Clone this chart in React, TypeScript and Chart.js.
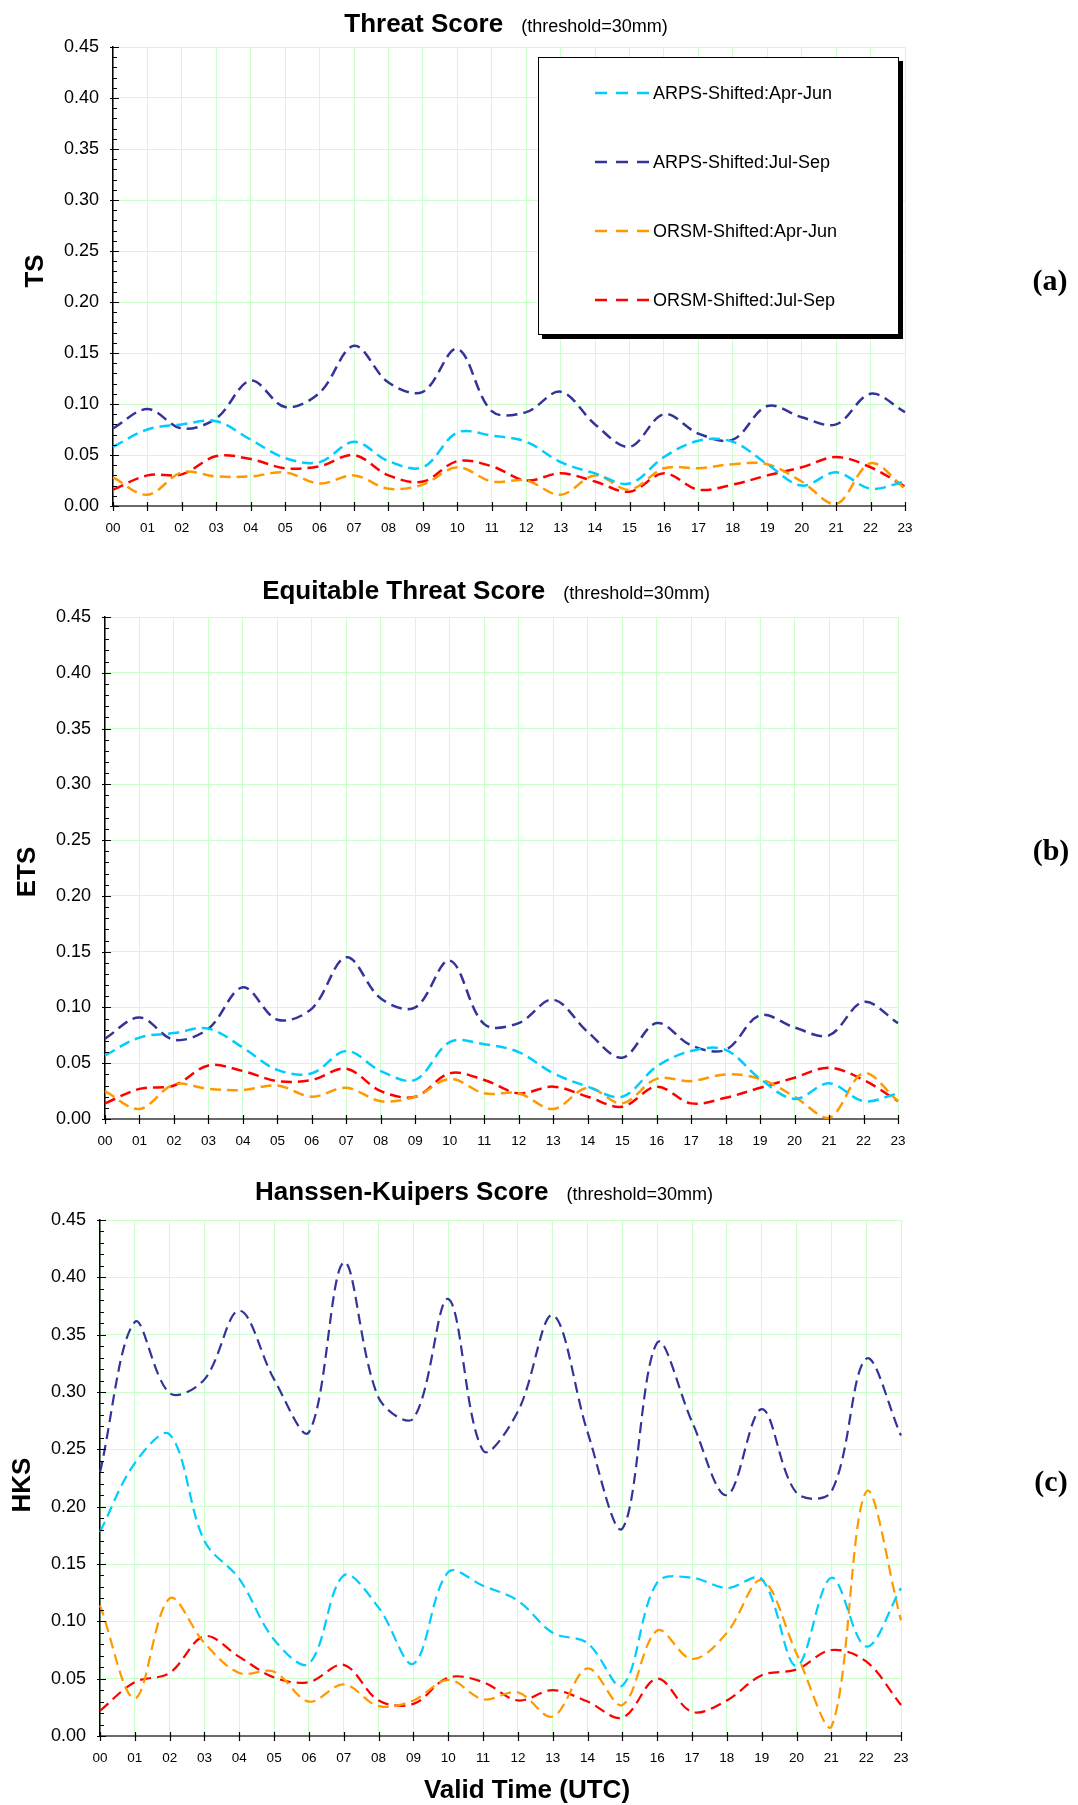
import React, { useEffect, useRef } from 'react';
import { Chart, registerables } from 'chart.js';

Chart.register(...registerables);

// ---------- data ----------
const HOURS = ['00', '01', '02', '03', '04', '05', '06', '07', '08', '09', '10', '11',
  '12', '13', '14', '15', '16', '17', '18', '19', '20', '21', '22', '23'];

const SERIES_LABELS = ['ARPS-Shifted:Apr-Jun', 'ARPS-Shifted:Jul-Sep', 'ORSM-Shifted:Apr-Jun', 'ORSM-Shifted:Jul-Sep'];
const SERIES_COLORS = ['#00ccff', '#333399', '#ff9900', '#ff0000'];

const TS_ARPS_AJ = [0.058, 0.075, 0.080, 0.083, 0.065, 0.047, 0.043, 0.063, 0.044, 0.038, 0.072, 0.069, 0.063, 0.043, 0.032, 0.022, 0.048, 0.064, 0.063, 0.041, 0.020, 0.033, 0.017, 0.024];
const TS_ARPS_JS = [0.076, 0.095, 0.076, 0.086, 0.123, 0.097, 0.111, 0.157, 0.121, 0.112, 0.154, 0.093, 0.092, 0.112, 0.080, 0.058, 0.090, 0.071, 0.065, 0.098, 0.087, 0.080, 0.110, 0.092];
const TS_ORSM_AJ = [0.028, 0.011, 0.033, 0.029, 0.029, 0.033, 0.022, 0.030, 0.017, 0.021, 0.038, 0.024, 0.025, 0.011, 0.030, 0.016, 0.037, 0.037, 0.041, 0.041, 0.024, 0.002, 0.042, 0.017];
const TS_ORSM_JS = [0.016, 0.030, 0.031, 0.049, 0.046, 0.037, 0.039, 0.050, 0.030, 0.024, 0.044, 0.039, 0.025, 0.032, 0.024, 0.014, 0.032, 0.016, 0.021, 0.030, 0.038, 0.048, 0.038, 0.019];

const ETS_ARPS_AJ = [0.057, 0.073, 0.077, 0.081, 0.064, 0.044, 0.041, 0.061, 0.043, 0.035, 0.069, 0.067, 0.060, 0.041, 0.029, 0.020, 0.047, 0.061, 0.062, 0.036, 0.018, 0.032, 0.016, 0.023];
const ETS_ARPS_JS = [0.072, 0.091, 0.071, 0.081, 0.118, 0.089, 0.099, 0.145, 0.108, 0.100, 0.142, 0.085, 0.086, 0.107, 0.078, 0.055, 0.086, 0.066, 0.062, 0.093, 0.082, 0.075, 0.105, 0.086];
const ETS_ORSM_AJ = [0.025, 0.009, 0.031, 0.027, 0.026, 0.030, 0.020, 0.028, 0.016, 0.020, 0.036, 0.023, 0.023, 0.009, 0.028, 0.014, 0.036, 0.034, 0.040, 0.036, 0.020, 0.001, 0.041, 0.016];
const ETS_ORSM_JS = [0.014, 0.027, 0.030, 0.048, 0.043, 0.034, 0.035, 0.045, 0.025, 0.020, 0.041, 0.035, 0.023, 0.029, 0.020, 0.011, 0.029, 0.014, 0.019, 0.028, 0.037, 0.046, 0.035, 0.016];

const HKS_ARPS_AJ = [0.178, 0.238, 0.263, 0.170, 0.137, 0.084, 0.063, 0.140, 0.112, 0.063, 0.143, 0.131, 0.118, 0.090, 0.081, 0.044, 0.134, 0.138, 0.129, 0.137, 0.061, 0.138, 0.078, 0.129];
const HKS_ARPS_JS = [0.230, 0.361, 0.299, 0.311, 0.371, 0.311, 0.265, 0.413, 0.295, 0.277, 0.381, 0.249, 0.283, 0.367, 0.265, 0.181, 0.343, 0.274, 0.210, 0.285, 0.212, 0.213, 0.329, 0.262];
const HKS_ORSM_AJ = [0.114, 0.033, 0.120, 0.081, 0.055, 0.056, 0.030, 0.045, 0.026, 0.031, 0.049, 0.032, 0.038, 0.017, 0.059, 0.027, 0.092, 0.067, 0.090, 0.136, 0.072, 0.008, 0.213, 0.101];
const HKS_ORSM_JS = [0.022, 0.047, 0.055, 0.087, 0.069, 0.051, 0.047, 0.062, 0.031, 0.028, 0.051, 0.047, 0.031, 0.040, 0.030, 0.016, 0.050, 0.021, 0.031, 0.053, 0.058, 0.075, 0.065, 0.027];

const Y_MIN = 0;
const Y_MAX = 0.45;
const Y_STEP = 0.05;
const SUBTITLE = '(threshold=30mm)';
const X_TITLE = 'Valid Time (UTC)';

// ---------- layout ----------
const SANS = '"Liberation Sans", Arial, Helvetica, sans-serif';
const SERIF = '"Liberation Serif", "Times New Roman", serif';

const PANELS = [
  {
    title: 'Threat Score', yTitle: 'TS', tag: '(a)',
    series: [TS_ARPS_AJ, TS_ARPS_JS, TS_ORSM_AJ, TS_ORSM_JS],
    canvasTop: 0, canvasH: 555,
    pad: { left: 33, top: 47, right: 173, bottom: 19 },
    titleCx: 506, titleCy: 23, yTitleX: 36, yTitleY: 271, tagX: 1050, tagY: 282,
    legend: true, xTitle: false, lineWidth: 2.5,
  },
  {
    title: 'Equitable Threat Score', yTitle: 'ETS', tag: '(b)',
    series: [ETS_ARPS_AJ, ETS_ARPS_JS, ETS_ORSM_AJ, ETS_ORSM_JS],
    canvasTop: 555, canvasH: 605,
    pad: { left: 25, top: 62, right: 180, bottom: 11 },
    titleCx: 486, titleCy: 590, yTitleX: 28, yTitleY: 872, tagX: 1051, tagY: 852,
    legend: false, xTitle: false, lineWidth: 2.5,
  },
  {
    title: 'Hanssen-Kuipers Score', yTitle: 'HKS', tag: '(c)',
    series: [HKS_ARPS_AJ, HKS_ARPS_JS, HKS_ORSM_AJ, HKS_ORSM_JS],
    canvasTop: 1160, canvasH: 645,
    pad: { left: 20, top: 60, right: 177, bottom: 39 },
    titleCx: 484, titleCy: 1191, yTitleX: 23, yTitleY: 1485, tagX: 1051, tagY: 1483,
    legend: false, xTitle: true, lineWidth: 2.2,
  },
];

const decorPlugin = {
  id: 'decor',
  afterDraw(chart: any, _args: any, opts: any) {
    const ctx = chart.ctx as CanvasRenderingContext2D;
    const { bottom, left } = chart.chartArea;
    const xs = chart.scales.x;
    const ys = chart.scales.y;
    const off = opts.canvasTop;
    ctx.save();

    // tick marks (major crossing axes, minor inside)
    ctx.strokeStyle = '#000';
    ctx.lineWidth = 1.2;
    ctx.beginPath();
    const n = chart.data.labels.length;
    for (let i = 0; i < n; i++) {
      const x = Math.round(xs.getPixelForValue(i)) + 0.5;
      ctx.moveTo(x, bottom - 4);
      ctx.lineTo(x, bottom + 5);
    }
    const kMax = Math.round(ys.max * 100);
    for (let k = 0; k <= kMax; k++) {
      const y = Math.round(ys.getPixelForValue(k / 100)) + 0.5;
      if (k % 5 === 0) {
        ctx.moveTo(left - 3, y);
        ctx.lineTo(left + 6, y);
      } else {
        ctx.moveTo(left, y);
        ctx.lineTo(left + 4, y);
      }
    }
    ctx.stroke();

    // title + subtitle
    ctx.fillStyle = '#000';
    ctx.textBaseline = 'alphabetic';
    ctx.textAlign = 'left';
    const f1 = `bold 26px ${SANS}`;
    const f2 = `18px ${SANS}`;
    ctx.font = f1;
    const w1 = ctx.measureText(opts.title).width;
    ctx.font = f2;
    const w2 = ctx.measureText(opts.subtitle).width;
    const gap = 18;
    const x0 = opts.titleCx - (w1 + gap + w2) / 2;
    const base = opts.titleCy - off + 9;
    ctx.font = f1;
    ctx.fillText(opts.title, x0, base);
    ctx.font = f2;
    ctx.fillText(opts.subtitle, x0 + w1 + gap, base);

    // y-axis title
    ctx.save();
    ctx.translate(opts.yTitleX, opts.yTitleY - off);
    ctx.rotate(-Math.PI / 2);
    ctx.font = `bold 26px ${SANS}`;
    ctx.textAlign = 'center';
    ctx.textBaseline = 'middle';
    ctx.fillText(opts.yTitle, 0, 0);
    ctx.restore();

    // panel tag
    ctx.font = `bold 30px ${SERIF}`;
    ctx.textAlign = 'center';
    ctx.textBaseline = 'middle';
    ctx.fillText(opts.tag, opts.tagX, opts.tagY - off);

    // x-axis title
    if (opts.xTitle) {
      ctx.font = `bold 26px ${SANS}`;
      ctx.textAlign = 'center';
      ctx.textBaseline = 'middle';
      ctx.fillText(opts.xTitleText, 527, 1791 - off);
    }

    // legend box
    if (opts.legend) {
      const bx = 538, by = 57 - off, bw = 361, bh = 278;
      ctx.fillStyle = '#000';
      ctx.fillRect(bx + 4, by + 4, bw, bh);
      ctx.fillStyle = '#fff';
      ctx.fillRect(bx, by, bw, bh);
      ctx.strokeStyle = '#000';
      ctx.lineWidth = 1;
      ctx.strokeRect(bx + 0.5, by + 0.5, bw - 1, bh - 1);
      ctx.font = `18px ${SANS}`;
      ctx.textAlign = 'left';
      ctx.textBaseline = 'middle';
      chart.data.datasets.forEach((ds: any, i: number) => {
        const ry = by + 36 + i * 69;
        ctx.strokeStyle = ds.borderColor;
        ctx.lineWidth = 2.5;
        ctx.setLineDash([12, 9]);
        ctx.beginPath();
        ctx.moveTo(595, ry);
        ctx.lineTo(649, ry);
        ctx.stroke();
        ctx.setLineDash([]);
        ctx.fillStyle = '#000';
        ctx.fillText(ds.label, 653, ry + 1);
      });
    }
    ctx.restore();
  },
};

function buildConfig(p: any): any {
  return {
    type: 'line',
    data: {
      labels: HOURS,
      datasets: p.series.map((vals: number[], i: number) => ({
        label: SERIES_LABELS[i],
        data: vals,
        borderColor: SERIES_COLORS[i],
        backgroundColor: SERIES_COLORS[i],
        borderWidth: p.lineWidth,
        borderDash: [11, 6],
        borderCapStyle: 'butt',
        pointRadius: 0,
        fill: false,
        tension: 0.35,
      })),
    },
    options: {
      animation: false,
      responsive: false,
      devicePixelRatio: 1,
      layout: { padding: p.pad },
      plugins: {
        legend: { display: false },
        tooltip: { enabled: false },
        decor: {
          canvasTop: p.canvasTop,
          title: p.title,
          subtitle: SUBTITLE,
          titleCx: p.titleCx,
          titleCy: p.titleCy,
          yTitle: p.yTitle,
          yTitleX: p.yTitleX,
          yTitleY: p.yTitleY,
          tag: p.tag,
          tagX: p.tagX,
          tagY: p.tagY,
          legend: p.legend,
          xTitle: p.xTitle,
          xTitleText: X_TITLE,
        },
      },
      scales: {
        x: {
          type: 'category',
          offset: false,
          afterFit: (s: any) => { s.height = 30; },
          grid: { color: '#ccffcc', lineWidth: 1, drawTicks: false },
          border: { color: '#6a6a6a', width: 2 },
          ticks: {
            autoSkip: false,
            maxRotation: 0,
            padding: 14,
            color: '#000',
            font: { family: SANS, size: 13.5 },
          },
        },
        y: {
          type: 'linear',
          min: Y_MIN,
          max: Y_MAX,
          afterFit: (s: any) => { s.width = 80; },
          grid: { color: '#ccffcc', lineWidth: 1, drawTicks: false },
          border: { color: '#000', width: 1.5 },
          ticks: {
            stepSize: Y_STEP,
            padding: 14,
            color: '#000',
            font: { family: SANS, size: 18 },
            callback: (v: any) => Number(v).toFixed(2),
          },
        },
      },
    },
    plugins: [decorPlugin],
  };
}

export default function App() {
  const refs = useRef<(HTMLCanvasElement | null)[]>([]);

  useEffect(() => {
    const charts = PANELS.map((p, i) => new Chart(refs.current[i] as HTMLCanvasElement, buildConfig(p)));
    return () => charts.forEach((c) => c.destroy());
  }, []);

  return (
    <div style={{ position: 'absolute', left: 0, top: 0, width: 1078, height: 1805, background: '#fff' }}>
      {PANELS.map((p, i) => (
        <canvas
          key={p.tag}
          ref={(el) => { refs.current[i] = el; }}
          width={1078}
          height={p.canvasH}
          style={{ position: 'absolute', left: 0, top: p.canvasTop, width: 1078, height: p.canvasH }}
        />
      ))}
    </div>
  );
}
